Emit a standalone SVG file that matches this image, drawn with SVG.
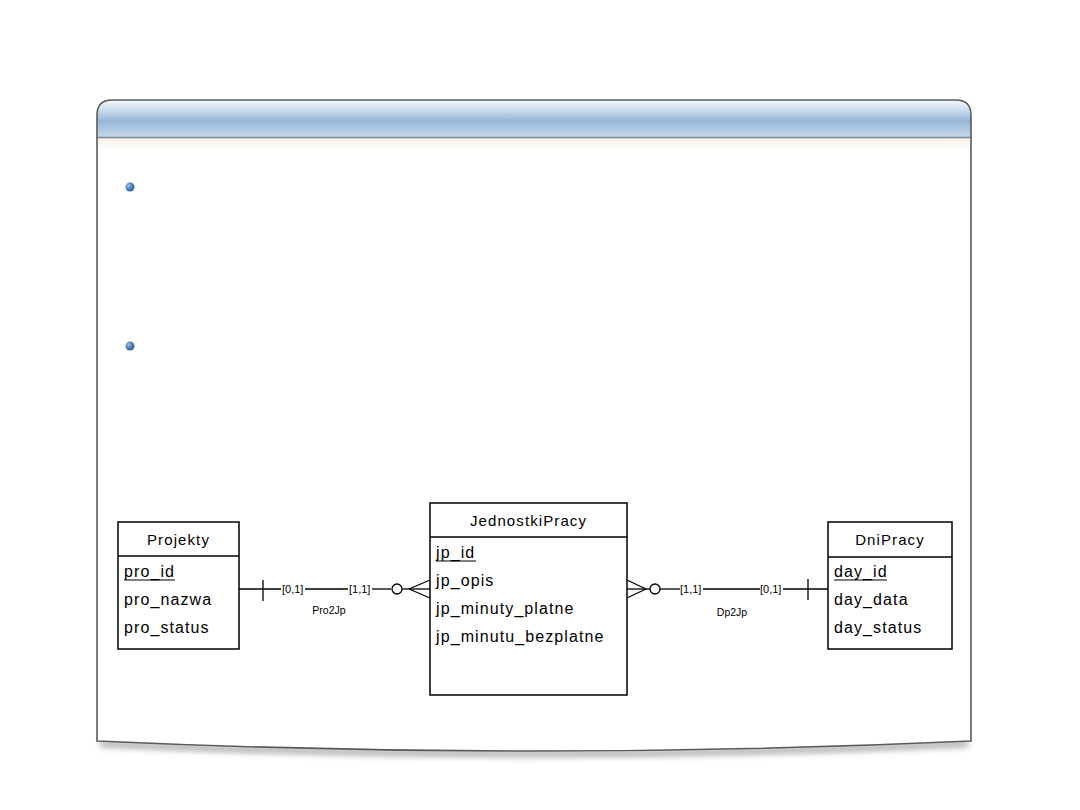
<svg xmlns="http://www.w3.org/2000/svg" width="1080" height="810" viewBox="0 0 1080 810">
  <defs>
    <linearGradient id="hdr" x1="0" y1="0" x2="0" y2="1">
      <stop offset="0" stop-color="#f2f7fc"/>
      <stop offset="0.25" stop-color="#cfdff0"/>
      <stop offset="0.55" stop-color="#96b6d8"/>
      <stop offset="0.85" stop-color="#b4cce4"/>
      <stop offset="1" stop-color="#c8d9ea"/>
    </linearGradient>
    <linearGradient id="sub" x1="0" y1="0" x2="0" y2="1">
      <stop offset="0" stop-color="#f6efe6"/>
      <stop offset="1" stop-color="#ffffff"/>
    </linearGradient>
    <radialGradient id="bul" cx="0.35" cy="0.35" r="0.7">
      <stop offset="0" stop-color="#a9c6e6"/>
      <stop offset="0.5" stop-color="#4f84bd"/>
      <stop offset="1" stop-color="#2f5f95"/>
    </radialGradient>
    <filter id="blur" x="-10%" y="-100%" width="120%" height="300%">
      <feGaussianBlur stdDeviation="3"/>
    </filter>
    <style>
      .ent { fill: #ffffff; stroke: #000000; stroke-width: 1.5; }
      .ln { stroke: #000000; stroke-width: 1.3; fill: none; }
      .title { font-family: "Liberation Sans", Arial, sans-serif; font-size: 15px; letter-spacing: 1.1px; fill: #000; text-anchor: middle; }
      .attr { font-family: "Liberation Sans", Arial, sans-serif; font-size: 16px; letter-spacing: 1.1px; fill: #000; }
      .card { font-family: "Liberation Sans", Arial, sans-serif; font-size: 11px; fill: #000; }
      .rel { font-family: "Liberation Sans", Arial, sans-serif; font-size: 10.5px; fill: #000; text-anchor: middle; }
    </style>
  </defs>

  <rect width="1080" height="810" fill="#ffffff"/>

  <!-- panel -->
  <g id="panel">
    <path d="M100,744 Q534,764 968,744" stroke="#9a9a9a" stroke-width="5" fill="none" filter="url(#blur)"/>
    <path d="M97,741 L97,115 Q97,100 112,100 L956,100 Q971,100 971,115 L971,741 Q534,761 97,741 Z" fill="#ffffff"/>
    <rect x="98" y="137" width="872" height="14" fill="url(#sub)"/>
    <path d="M97,137 L97,115 Q97,100 112,100 L956,100 Q971,100 971,115 L971,137 Z" fill="url(#hdr)"/>
    <line x1="97" y1="137.5" x2="971" y2="137.5" stroke="#76879a" stroke-width="1.5"/>
    <path d="M97,741 L97,115 Q97,100 112,100 L956,100 Q971,100 971,115 L971,741 Q534,761 97,741 Z" fill="none" stroke="#5a5a5a" stroke-width="1.6"/>
    <circle cx="130" cy="187" r="4.5" fill="url(#bul)"/>
    <circle cx="130" cy="346" r="4.5" fill="url(#bul)"/>
  </g>

  <!-- connectors -->
  <g id="connectors">
    <!-- Pro2Jp -->
    <line class="ln" x1="239" y1="589" x2="281" y2="589"/>
    <line class="ln" x1="263" y1="580" x2="263" y2="601"/>
    <text class="card" x="282" y="593">[0,1]</text>
    <line class="ln" x1="305" y1="589" x2="348" y2="589"/>
    <text class="card" x="349" y="593">[1,1]</text>
    <line class="ln" x1="372" y1="589" x2="391" y2="589"/>
    <circle class="ln" cx="397" cy="589" r="5"/>
    <line class="ln" x1="402" y1="589" x2="430" y2="589"/>
    <line class="ln" x1="409" y1="589" x2="430" y2="580"/>
    <line class="ln" x1="409" y1="589" x2="430" y2="598"/>
    <text class="rel" x="329" y="614">Pro2Jp</text>

    <!-- Dp2Jp -->
    <line class="ln" x1="627" y1="589" x2="650" y2="589"/>
    <line class="ln" x1="627" y1="580" x2="646" y2="589"/>
    <line class="ln" x1="627" y1="598" x2="646" y2="589"/>
    <circle class="ln" cx="655" cy="589" r="5"/>
    <line class="ln" x1="660" y1="589" x2="680" y2="589"/>
    <text class="card" x="680" y="593">[1,1]</text>
    <line class="ln" x1="703" y1="589" x2="760" y2="589"/>
    <text class="card" x="760" y="593">[0,1]</text>
    <line class="ln" x1="783" y1="589" x2="828" y2="589"/>
    <line class="ln" x1="808" y1="579" x2="808" y2="600"/>
    <text class="rel" x="732" y="616">Dp2Jp</text>
  </g>

  <!-- Projekty -->
  <g id="projekty">
    <rect class="ent" x="118" y="522" width="121" height="127"/>
    <line class="ln" x1="118" y1="556" x2="239" y2="556"/>
    <text class="title" x="178.5" y="545">Projekty</text>
    <text class="attr" x="124" y="577">pro_id</text>
    <line x1="124" y1="580" x2="175" y2="580" stroke="#000" stroke-width="1.2"/>
    <text class="attr" x="124" y="605">pro_nazwa</text>
    <text class="attr" x="124" y="633">pro_status</text>
  </g>

  <!-- JednostkiPracy -->
  <g id="jednostkipracy">
    <rect class="ent" x="430" y="503" width="197" height="192"/>
    <line class="ln" x1="430" y1="537" x2="627" y2="537"/>
    <text class="title" x="528.5" y="526">JednostkiPracy</text>
    <text class="attr" x="436" y="558">jp_id</text>
    <line x1="436" y1="561" x2="476" y2="561" stroke="#000" stroke-width="1.2"/>
    <text class="attr" x="436" y="586">jp_opis</text>
    <text class="attr" x="436" y="614">jp_minuty_platne</text>
    <text class="attr" x="436" y="642">jp_minutu_bezplatne</text>
  </g>

  <!-- DniPracy -->
  <g id="dnipracy">
    <rect class="ent" x="828" y="522" width="124" height="127"/>
    <line class="ln" x1="828" y1="557" x2="952" y2="557"/>
    <text class="title" x="890" y="545">DniPracy</text>
    <text class="attr" x="834" y="577">day_id</text>
    <line x1="834" y1="580" x2="887" y2="580" stroke="#000" stroke-width="1.2"/>
    <text class="attr" x="834" y="605">day_data</text>
    <text class="attr" x="834" y="633">day_status</text>
  </g>
</svg>
